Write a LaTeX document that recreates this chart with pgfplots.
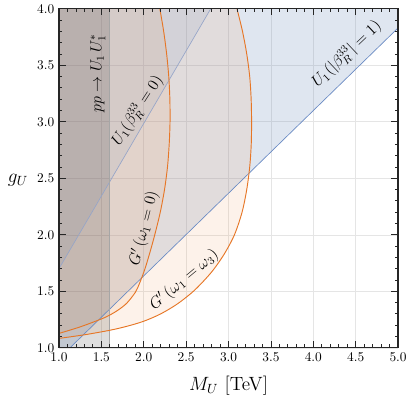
\documentclass[border=0pt]{standalone}
\usepackage{pgfplots}
\pgfplotsset{compat=1.18}
\definecolor{blfill}{RGB}{94,129,181}
\definecolor{blline}{RGB}{105,138,195}
\definecolor{bzline}{RGB}{150,165,200}
\definecolor{orline}{RGB}{230,118,38}
\definecolor{orfill}{RGB}{240,150,80}
\begin{document}
\begin{tikzpicture}
\begin{axis}[
  set layers, axis on top,
  scale only axis, width=254.25pt, height=254.25pt,
  xmin=1, xmax=5, ymin=1, ymax=4,
  xtick={1,1.5,...,5}, ytick={1,1.5,...,4},
  minor x tick num=4, minor y tick num=4,
  tick align=inside,
  major tick length=5pt, minor tick length=2.6pt,
  every tick/.style={black!85, line width=0.6pt},
  axis line style={black!85, line width=0.9pt},
  grid=major, major grid style={black!10, line width=0.4pt, /pgfplots/on layer=axis background},
  xticklabel style={/pgf/number format/.cd, fixed, fixed zerofill, precision=1},
  yticklabel style={/pgf/number format/.cd, fixed, fixed zerofill, precision=1},
  xlabel={$M_U$ [TeV]}, ylabel={$g_U$},
  label style={font=\Large},
  xlabel style={at={(axis description cs:0.5,-0.112)}, anchor=center},
  ylabel style={rotate=-90, at={(axis description cs:-0.121,0.493)}, anchor=center},
]
% beta=1 region
\addplot[draw=none, fill=blfill, fill opacity=0.2] coordinates {(1,1) (1.13,1) (5,3.83) (5,4) (1,4)};
% omega1=omega3 region
\addplot[draw=none, fill=orfill, fill opacity=0.12] coordinates {
(1.0,1.083) (1.3,1.115) (1.6,1.155) (1.8,1.19) (2.0,1.235) (2.2,1.30) (2.4,1.39) (2.6,1.51) (2.8,1.67) (2.95,1.83) (3.07,2.0) (3.16,2.2) (3.215,2.4) (3.25,2.6) (3.268,2.8) (3.272,3.0) (3.267,3.2) (3.25,3.4) (3.215,3.6) (3.165,3.8) (3.10,4.0) (1,4)};
% omega1=0 region
\addplot[draw=none, fill=orfill, fill opacity=0.12] coordinates {
(1.0,1.127) (1.25,1.185) (1.5,1.255) (1.6,1.29) (1.7,1.335) (1.8,1.395) (1.9,1.49) (1.95,1.57) (2.015,1.7) (2.075,1.85) (2.13,2.0) (2.195,2.2) (2.245,2.4) (2.28,2.6) (2.30,2.8) (2.31,3.0) (2.308,3.2) (2.295,3.4) (2.27,3.6) (2.235,3.8) (2.19,4.0) (1,4)};
% beta=0 region
\addplot[draw=none, fill=blfill, fill opacity=0.1] coordinates {(1,1.70) (2.79,4) (1,4)};
% collider band
\addplot[draw=none, fill=black, fill opacity=0.13] coordinates {(1,1) (1.6,1) (1.6,4) (1,4)};
% boundaries
\addplot[blline, line width=0.5pt] coordinates {(1.13,1) (5,3.83)};
\addplot[bzline, line width=0.5pt] coordinates {(1,1.70) (2.79,4)};
\addplot[black!35, line width=0.8pt] coordinates {(1.6,1) (1.6,4)};
\addplot[orline, line width=0.7pt, smooth] coordinates {
(1.0,1.083) (1.3,1.115) (1.6,1.155) (1.8,1.19) (2.0,1.235) (2.2,1.30) (2.4,1.39) (2.6,1.51) (2.8,1.67) (2.95,1.83) (3.07,2.0) (3.16,2.2) (3.215,2.4) (3.25,2.6) (3.268,2.8) (3.272,3.0) (3.267,3.2) (3.25,3.4) (3.215,3.6) (3.165,3.8) (3.10,4.0)};
\addplot[orline, line width=0.7pt, smooth] coordinates {
(1.0,1.127) (1.25,1.185) (1.5,1.255) (1.6,1.29) (1.7,1.335) (1.8,1.395) (1.9,1.49) (1.95,1.57) (2.015,1.7) (2.075,1.85) (2.13,2.0) (2.195,2.2) (2.245,2.4) (2.28,2.6) (2.30,2.8) (2.31,3.0) (2.308,3.2) (2.295,3.4) (2.27,3.6) (2.235,3.8) (2.19,4.0)};
% labels
\node[rotate=90, font=\large] at (axis cs:1.46,3.43) {$pp \to U_1\,U_1^*$};
\node[rotate=57, font=\large] at (axis cs:1.926,3.10) {$U_1(\beta_R^{33}=0)$};
\node[rotate=43.5, font=\large] at (axis cs:4.395,3.60) {$U_1(|\beta_R^{33}|=1)$};
\node[rotate=75.7, font=\large] at (axis cs:2.005,2.058) {$G'\,(\omega_1=0)$};
\node[rotate=40, font=\large] at (axis cs:2.477,1.60) {$G'\,(\omega_1=\omega_3)$};
\coordinate (bbsw) at (rel axis cs:-0.174,-0.150);
\coordinate (bbne) at (rel axis cs:1.050,1.0236);
\end{axis}
\path (bbsw) rectangle (bbne);
\end{tikzpicture}
\end{document}
